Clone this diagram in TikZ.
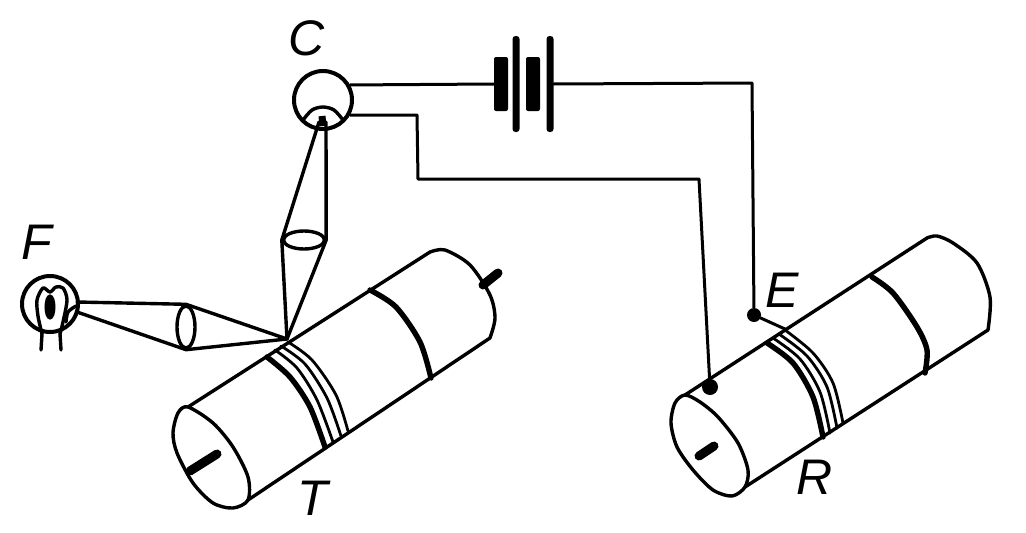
\documentclass[tikz,border=0pt]{standalone}
\usepackage{fontspec}
\setmainfont{Liberation Sans}
\usetikzlibrary{shapes.geometric}
\tikzset{
  ink/.style={line width=3.4pt, line join=round, line cap=round},
  wire/.style={line width=3pt, line join=round, line cap=round},
  heavy/.style={line width=5.4pt, line join=round, line cap=round},
  axle/.style={line width=9pt, line cap=round},
  winding/.style={line width=2.8pt, line cap=round},
  dot/.style={circle, fill=black, inner sep=0pt, minimum size=14pt},
  letter/.style={inner sep=0pt, font=\fontsize{50}{50}\selectfont\itshape},
  plate/.style={fill=black, inner sep=0pt, rounded corners=2pt, minimum width=14pt, minimum height=54pt},
  bar/.style={fill=black, inner sep=0pt, rounded corners=3pt, minimum width=7pt, minimum height=96pt},
  glass/.style={circle, draw, line width=4pt, inner sep=0pt},
  lens/.style={ellipse, draw, line width=3.4pt, inner sep=0pt}
}
\begin{document}
\begin{tikzpicture}[x=1pt, y=-1pt]
\useasboundingbox (0,0) rectangle (1026,533);
\node[letter] (F) at (37,242) {F};
\node[letter] (C) at (307,38) {C};
\node[letter] (T) at (313,498) {T};
\node[letter] (E) at (782,290) {E};
\node[letter] (R) at (815,477) {R};
\node[glass, minimum size=58pt] (tube) at (323,100) {};
\node[glass, minimum size=56pt] (bulb) at (50,304) {};
\node[lens, minimum width=41pt, minimum height=18pt] (lensC) at (304,240) {};
\node[lens, minimum width=18pt, minimum height=42pt] (lensF) at (186,327) {};
\node[plate] (cellA) at (501,84) {};
\node[bar] (barA) at (516,84) {};
\node[plate] (cellB) at (533,84) {};
\node[bar] (barB) at (550,84) {};
\node[dot] (dotE) at (754,315) {};
\node[dot, minimum size=16pt] (dotR) at (710,387) {};
\coordinate (spot) at (287,339);
\coordinate (cathL) at (319,122);
\coordinate (cathR) at (326,122);
\coordinate (filA) at (77,302);
\coordinate (filB) at (77,312);
\coordinate (turnA) at (752,83);
\coordinate (turnB) at (417,115);
\coordinate (turnC) at (418,179);
\coordinate (turnD) at (699,179);
\coordinate (coilE) at (785,329);
\draw[wire] (tube.29) -- (cellA.west);
\draw[wire] (barB.east |- cellB) -- (turnA) -- (dotE);
\draw[wire] (tube.-29) -- (turnB) -- (turnC) -- (turnD) -- (dotR);
\draw[wire] (dotE) -- (coilE);
\draw[ink] (spot) -- (lensC.west) -- (cathL);
\draw[ink] (spot) -- (lensC.east) -- (cathR);
\draw[ink] (filA) -- (lensF.north) -- (spot);
\draw[ink] (filB) -- (lensF.south) -- (spot);
\draw[ink] plot[smooth] coordinates {(303,120) (312,110) (323,107) (334,110) (343,120)};
\draw[line width=7pt] (322,116) -- (323,126);
\draw[ink] plot[smooth] coordinates {(42,334) (38,316) (37,300) (43,288) (50,292) (56,287) (63,288) (67,300) (63,322) (60,334)};
\draw[line width=3pt, fill=black] (50,307) ellipse [x radius=4, y radius=11];
\draw[ink] (42,334) -- (41,350);
\draw[ink] (60,334) -- (61,350);
\draw[ink] plot[smooth] coordinates {(66,322) (68,312) (76,306)};
\draw[ink] plot[smooth cycle] coordinates {(188,407) (213,423) (233,447) (248,477) (248,500) (233,508) (213,503) (193,483) (177,453) (173,433) (178,413)};
\draw[ink] (188,407) -- (430,252);
\draw[ink] plot[smooth] coordinates {(430,252) (445,250) (470,265) (490,295) (495,318) (490,338)};
\draw[ink] (248,500) -- (490,338);
\draw[heavy] plot[smooth] coordinates {(370,290) (396,307) (420,342) (431,378)};
\draw[heavy] plot[smooth] coordinates {(267,357) (290,377) (310,407) (325,447)};
\draw[winding] plot[smooth] coordinates {(275,350) (297,368) (317,400) (333,442)};
\draw[winding] plot[smooth] coordinates {(281,346) (305,364) (327,398) (341,436)};
\draw[winding] plot[smooth] coordinates {(288,342) (312,360) (336,395) (348,431)};
\draw[axle] (190,471) -- (217,454);
\draw[axle] (483,285) -- (498,273);
\draw[ink] plot[smooth cycle] coordinates {(685,395) (700,402) (718,417) (738,443) (748,470) (745,487) (732,496) (713,490) (693,470) (677,447) (671,423) (675,403)};
\draw[ink] (685,395) -- (927,238);
\draw[ink] plot[smooth] coordinates {(927,238) (937,236) (953,243) (977,263) (990,297) (988,330)};
\draw[ink] (745,487) -- (988,330);
\draw[heavy] plot[smooth] coordinates {(872,277) (893,293) (917,327) (927,350) (925,373)};
\draw[heavy] plot[smooth] coordinates {(767,343) (793,363) (813,397) (823,437)};
\draw[winding] plot[smooth] coordinates {(773,338) (800,359) (820,392) (830,433)};
\draw[winding] plot[smooth] coordinates {(779,334) (807,356) (827,387) (837,428)};
\draw[winding] plot[smooth] coordinates {(785,330) (813,353) (833,383) (843,423)};
\draw[axle] (699,456) -- (714,446);
\end{tikzpicture}
\end{document}
